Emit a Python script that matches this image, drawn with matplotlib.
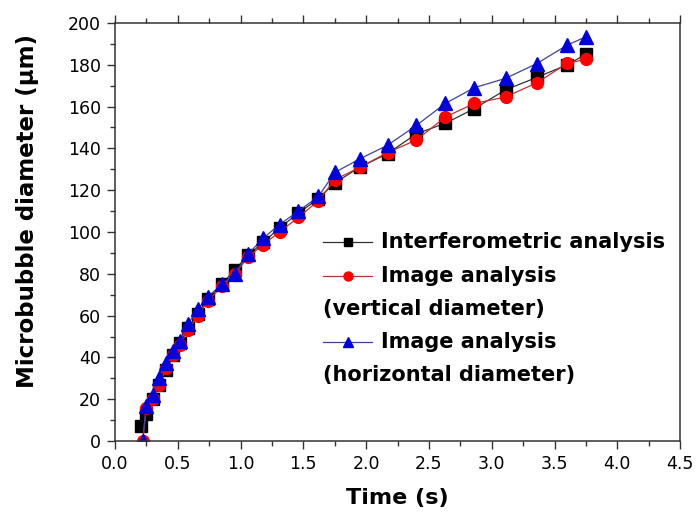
import numpy as np
import matplotlib.pyplot as plt
from matplotlib.ticker import MultipleLocator

plt.rcParams['font.family'] = ['DejaVu Sans']

time = [0.21, 0.25, 0.30, 0.35, 0.41, 0.46, 0.52, 0.58, 0.66, 0.74, 0.85, 0.955,
        1.06, 1.18, 1.31, 1.46, 1.62, 1.75, 1.95, 2.17, 2.40, 2.63, 2.86, 3.11,
        3.36, 3.60, 3.75]
interferometric = [7, 13, 20, 27, 34, 41, 47, 54, 61, 68, 75, 82, 89, 95, 102, 109,
                   116, 123.5, 131, 137.5, 147, 152, 159, 168, 174, 180, 185]
vertical = [0, 16, 20, 27, 35, 41, 46, 53, 60, 67, 74, 80, 88, 94, 100, 107, 115,
            125, 131, 138, 144, 155, 161.5, 164.6, 171.4, 180.7, 182.6]
horizontal = [0, 17, 22, 30, 37.5, 43, 48, 56, 63, 69, 75, 80, 89.5, 97, 103.6, 110,
              117, 128.5, 135, 141.5, 151, 161.5, 169, 173.5, 180.6, 189.4, 193.4]
time_vh = [0.22] + time[1:]

fig = plt.figure(figsize=(6.99, 5.22), dpi=100)
ax = fig.add_axes([0.1645, 0.155, 0.8085, 0.801])

ax.plot(time, interferometric, color='#333333', lw=0.9, marker='s', ms=8,
        mfc='black', mec='black')
ax.plot(time_vh, vertical, color='#c03030', lw=0.9, marker='o', ms=8.5,
        mfc='red', mec='red')
ax.plot(time_vh, horizontal, color='#4040a0', lw=0.9, marker='^', ms=9.5,
        mfc='#0000dd', mec='#0000dd')

ax.set_xlim(0, 4.5)
ax.set_ylim(0, 200)
ax.xaxis.set_major_locator(MultipleLocator(0.5))
ax.xaxis.set_minor_locator(MultipleLocator(0.25))
ax.yaxis.set_major_locator(MultipleLocator(20))
ax.yaxis.set_minor_locator(MultipleLocator(10))
ax.tick_params(which='both', direction='out', top=True, right=False,
               width=1.0, color='#333333')
ax.tick_params(which='major', length=6, labelsize=12.5, pad=4)
ax.tick_params(which='minor', length=3.5)
ax.xaxis.set_major_formatter(plt.FormatStrFormatter('%.1f'))
for s in ax.spines.values():
    s.set_linewidth(1.1)
    s.set_color('#333333')

ax.set_xlabel('Time (s)', fontsize=16, fontweight='bold')
ax.xaxis.set_label_coords(0.5, -0.112)
ax.set_ylabel('Microbubble diameter (\u03bcm)', fontsize=16.5, fontweight='bold')
ax.yaxis.set_label_coords(-0.135, 0.55)

# legend, drawn by hand so the wrapped lines start under the handles
rows = [0.475, 0.396, 0.317, 0.237, 0.158]
handles = [('s', '#333333', 'black', 'Interferometric analysis', 5.5),
           ('o', '#c03030', 'red', 'Image analysis', 6.5),
           (None, None, None, '(vertical diameter)', 0),
           ('^', '#4040a0', '#0000dd', 'Image analysis', 7),
           (None, None, None, '(horizontal diameter)', 0)]
for y, (m, lc, mc, label, ms) in zip(rows, handles):
    if m is None:
        ax.text(0.368, y, label, transform=ax.transAxes, fontsize=15,
                fontweight='bold', va='center', ha='left')
        continue
    ax.plot([0.368, 0.455], [y, y], transform=ax.transAxes, color=lc, lw=0.9)
    ax.plot([0.412], [y], transform=ax.transAxes, marker=m, ms=ms, mfc=mc,
            mec=mc, ls='none')
    ax.text(0.471, y, label, transform=ax.transAxes, fontsize=15,
            fontweight='bold', va='center', ha='left')

fig.savefig('out.png', dpi=100)
